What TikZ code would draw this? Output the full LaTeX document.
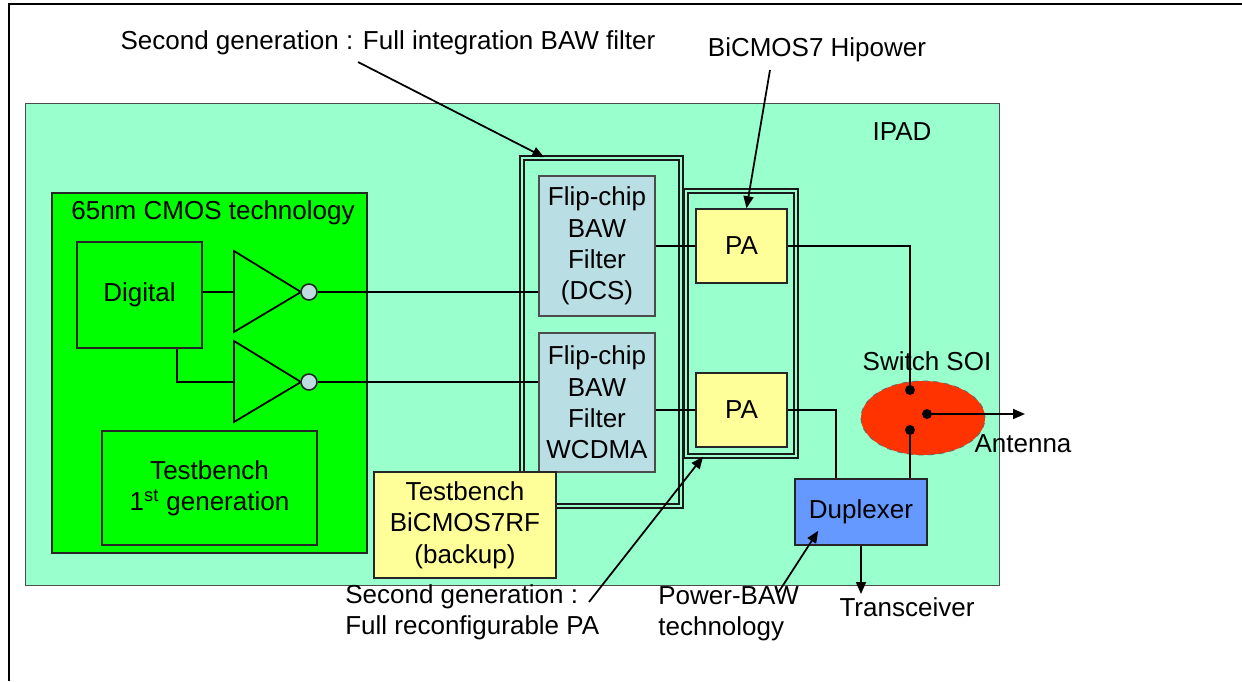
\documentclass[tikz,border=0pt]{standalone}
\usepackage{fontspec}
\setmainfont{Liberation Sans}
\usetikzlibrary{arrows.meta,positioning,shapes.geometric}
\definecolor{ipadmint}{RGB}{153,255,204}
\definecolor{cmosgreen}{RGB}{0,255,0}
\definecolor{filterblue}{RGB}{185,222,228}
\definecolor{payellow}{RGB}{255,255,153}
\definecolor{dupblue}{RGB}{102,153,255}
\definecolor{switchred}{RGB}{255,51,0}
\definecolor{bubblegray}{RGB}{190,220,225}
\newcommand{\lblfont}{\fontsize{14.8}{17.8}\selectfont}
\tikzset{
  box/.style={rectangle, draw=black!85, line width=0.9pt, align=center, inner sep=0pt, font=\lblfont},
  boxgreen/.style={box, fill=cmosgreen},
  boxblue/.style={box, fill=filterblue, draw=black!70, line width=0.6pt},
  boxyellow/.style={box, fill=payellow},
  groupbox/.style={rectangle, draw=black!90, double=ipadmint, double distance=1.2pt, line width=0.85pt, inner sep=0pt},
  txt/.style={font=\lblfont, inner sep=0pt, align=left},
  bubble/.style={circle, draw=black!85, fill=bubblegray, line width=0.9pt, minimum size=0.32cm, inner sep=0pt},
  dot/.style={circle, fill=black, minimum size=0.2cm, inner sep=0pt},
  wire/.style={line width=1pt, black},
  arrow/.style={-{Triangle[length=2.4mm, width=2mm]}, line width=1pt, black},
}
\begin{document}
\begin{tikzpicture}[x=0.02cm, y=-0.02cm]
\useasboundingbox (0,0) rectangle (1242,681);
\draw[line width=1.5pt] (9,681) |- (1242,4);

\node[box, fill=ipadmint, draw=black!70, line width=0.6pt, minimum width=19.5cm, minimum height=9.66cm] (ipad) at (512.5,344.5) {};
\node[txt] (ipadl) at (902,132) {IPAD};

\node[boxgreen, minimum width=6.3cm, minimum height=7.2cm] (cmos) at (209.5,373) {};
\node[txt] (cmosl) at (213,213) {65nm CMOS technology};
\node[boxgreen, minimum width=2.5cm, minimum height=2.12cm] (dig) at (139.5,295) {Digital};
\node[boxgreen, minimum width=4.3cm, minimum height=2.28cm] (tb1) at (209.5,488) {Testbench\\1\textsuperscript{st} generation};
\foreach \n/\y in {1/292, 2/382} {
  \coordinate (inv\n) at (234,\y);
  \draw[wire, fill=cmosgreen] (234,\y-41) -- (301,\y) -- (234,\y+40) -- cycle;
  \node[bubble] (b\n) at (309,\y) {};
}
\draw[wire] (dig.east |- inv1) -- (inv1);
\draw[wire] ([xshift=0.75cm]dig.south) |- (inv2);

\node[groupbox, minimum width=3.18cm, minimum height=6.96cm] (fgrp) at (601.5,332) {};
\node[boxblue, minimum width=2.32cm, minimum height=2.8cm] (fdcs) at (597,246) {Flip-chip\\BAW\\Filter\\(DCS)};
\node[boxblue, minimum width=2.32cm, minimum height=2.78cm] (fwc) at (597,402.5) {Flip-chip\\BAW\\Filter\\WCDMA};

\node[groupbox, minimum width=2.2cm, minimum height=5.3cm] (pgrp) at (741,323.5) {};
\node[boxyellow, minimum width=1.82cm, minimum height=1.48cm] (pa1) at (741.5,246) {PA};
\node[boxyellow, minimum width=1.82cm, minimum height=1.48cm] (pa2) at (741.5,410) {PA};

\node[boxyellow, minimum width=3.64cm, minimum height=2.12cm] (tb2) at (465,525) {Testbench\\BiCMOS7RF\\(backup)};

\node[ellipse, draw=black!60, dashed, line width=0.5pt, fill=switchred, minimum width=2.48cm, minimum height=1.48cm, inner sep=0pt] (sw) at (923,418) {};
\node[box, fill=dupblue, minimum width=2.64cm, minimum height=1.32cm] (dup) at (861,512) {Duplexer};
\node[dot] (swt) at (910,390) {};
\node[dot] (swb) at (910,430) {};
\node[dot] (ant) at (927,414) {};
\coordinate (antend) at (1025,414);
\coordinate (trx) at (861,594);

\foreach \a/\b in {b1/fdcs, b2/fwc}
  \draw[wire] (\a.east) -- (\a.east -| \b.west);
\draw[wire] (fdcs.east |- pa1) -- (pa1.west);
\draw[wire] (fwc.east |- pa2) -- (pa2.west);
\draw[wire] (pa1.east) -| (swt);
\draw[wire] (pa2.east) -| ([xshift=-0.5cm]dup.north);
\draw[wire] (swb) -- (swb |- dup.north);
\draw[arrow] (ant) -- (antend);
\draw[arrow] (dup.south) -- (trx);

\node[txt] (swl) at (927,361) {Switch SOI};
\node[txt] (antl) at (1023,444) {Antenna};
\node[txt] (trxl) at (907,607) {Transceiver};

\node[txt] (gen1) at (388,43) {Second generation : Full integration BAW filter};
\coordinate (gen1s) at (358,62);
\draw[arrow] (gen1s) -- ([xshift=0.46cm]fgrp.north west);
\node[txt] (hip) at (817,50) {BiCMOS7 Hipower};
\coordinate (hips) at (770,70);
\draw[arrow] (hips) -- ([xshift=0.1cm]pa1.north);
\node[txt, anchor=west] (gen2) at (345,612) {Second generation :\\Full reconfigurable PA};
\coordinate (gen2s) at (589,602);
\draw[arrow] (gen2s) -- ([xshift=-0.76cm]pgrp.south);
\node[txt, anchor=west] (pbaw) at (658,614) {Power-BAW\\technology};
\coordinate (pbaws) at (778,593);
\draw[arrow] (pbaws) -- ([xshift=0.48cm, yshift=0.3cm]dup.south west);
\end{tikzpicture}
\end{document}
